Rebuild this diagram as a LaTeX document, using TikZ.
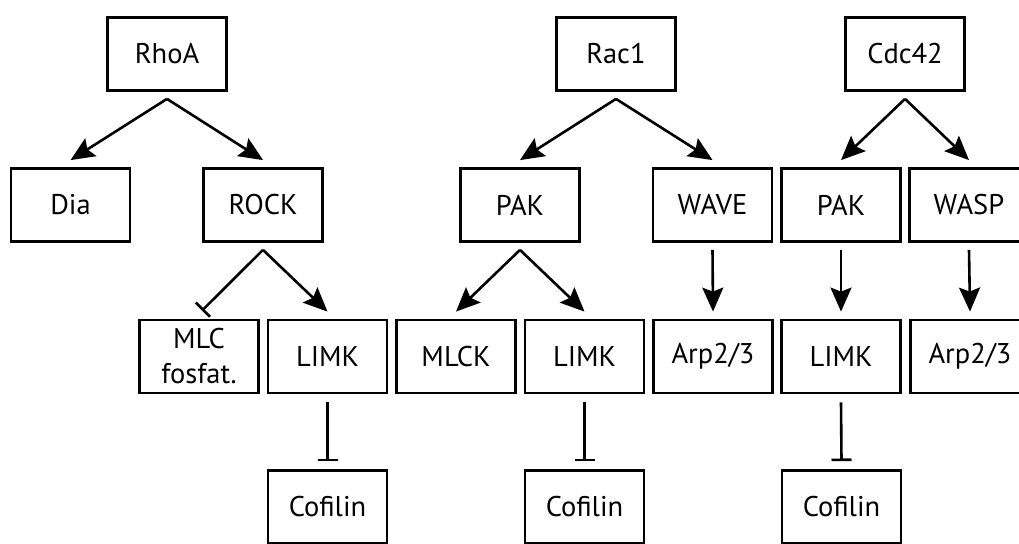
\documentclass[tikz,border=0pt]{standalone}
\usepackage{fontspec}
\setmainfont{PT Sans}
\usetikzlibrary{arrows.meta}
\begin{document}
\begin{tikzpicture}[x=1pt,y=-1pt]

\tikzset{box/.style={rectangle,draw,line width=2.8pt,minimum width=119pt,minimum height=73pt,inner sep=0pt,align=center,font=\fontsize{28.5}{35}\selectfont},}
\tikzset{act/.style={-{Stealth[length=24pt,width=21pt,inset=4pt]},line width=2.6pt},}
\tikzset{inh/.style={-{Bar[width=20pt]},line width=2.6pt},}

%MARCO
\useasboundingbox (0,0) rectangle (1019,543);
\clip (0,0) rectangle (1019,543);

%RhoA
\draw (167,54) node [box] (rhoa) {RhoA};
\draw (70.5,205) node [box] (dia) {Dia};
\draw (263,205) node [box] (rock) {ROCK};
\draw (199,356.5) node [box] (mlc) {MLC\\fosfat.};
\draw (327.5,356.5) node [box] (limk1) {LIMK};
\draw (327.5,507) node [box] (cof1) {Cofilin};

%Rac1
\draw (616,54) node [box] (rac) {Rac1};
\draw (520,205) node [box] (pak1) {PAK};
\draw (712.5,205) node [box] (wave) {WAVE};
\draw (456,356.5) node [box] (mlck) {MLCK};
\draw (584.5,356.5) node [box] (limk2) {LIMK};
\draw (713,356.5) node [box] (arp1) {Arp2/3};
\draw (584.5,507) node [box] (cof2) {Cofilin};

%Cdc42
\draw (905,54) node [box] (cdc) {Cdc42};
\draw (841,205) node [box] (pak2) {PAK};
\draw (969,205) node [box] (wasp) {WASP};
\draw (841,356.5) node [box] (limk3) {LIMK};
\draw (970,356.5) node [box] (arp2) {Arp2/3};
\draw (841.5,507) node [box] (cof3) {Cofilin};

\draw[act] ([yshift=-7pt]rhoa.south) -- ([yshift=7pt]dia.north);
\draw[act] ([yshift=-7pt]rhoa.south) -- ([yshift=7pt]rock.north);
\draw[inh] ([yshift=-7pt]rock.south) -- ([xshift=3pt,yshift=8pt]mlc.north);
\draw[act] ([yshift=-7pt]rock.south) -- ([yshift=7pt]limk1.north);
\draw[inh] ([yshift=-8pt]limk1.south) -- ([yshift=8pt]cof1.north);

\draw[act] ([yshift=-7pt]rac.south) -- ([yshift=7pt]pak1.north);
\draw[act] ([yshift=-7pt]rac.south) -- ([yshift=7pt]wave.north);
\draw[act] ([yshift=-7pt]pak1.south) -- ([yshift=7pt]mlck.north);
\draw[act] ([yshift=-7pt]pak1.south) -- ([yshift=7pt]limk2.north);
\draw[act] ([yshift=-7pt]wave.south) -- ([yshift=7pt]arp1.north);
\draw[inh] ([yshift=-8pt]limk2.south) -- ([yshift=8pt]cof2.north);

\draw[act] ([yshift=-7pt]cdc.south) -- ([yshift=7pt]pak2.north);
\draw[act] ([yshift=-7pt]cdc.south) -- ([yshift=7pt]wasp.north);
\draw[act] ([yshift=-7pt]pak2.south) -- ([yshift=7pt]limk3.north);
\draw[act] ([yshift=-7pt]wasp.south) -- ([yshift=7pt]arp2.north);
\draw[inh] ([yshift=-8pt]limk3.south) -- ([yshift=8pt]cof3.north);

\end{tikzpicture}
\end{document}
